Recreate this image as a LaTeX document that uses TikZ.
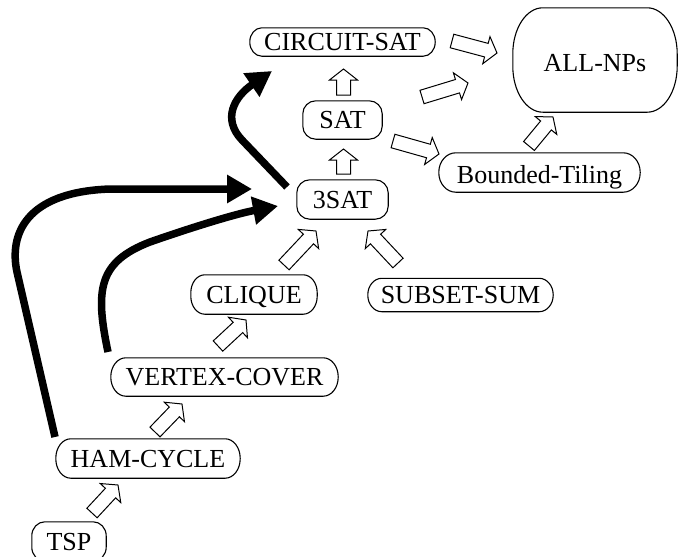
\documentclass[tikz,border=0pt]{standalone}
\usepackage{fontspec}
\setmainfont{Liberation Serif}
\usetikzlibrary{calc,arrows.meta}
\newcommand\ebox[3]{%
  \draw[boxline] let \p1=(#1.south west), \p2=(#1.north east) in
  ({\x1+#2pt},\y2) -- ({\x2-#2pt},\y2)
  .. controls ({\x2-0.448*#2pt},\y2) and (\x2,{\y2-0.448*#3pt}) .. (\x2,{\y2-#3pt})
  -- (\x2,{\y1+#3pt})
  .. controls (\x2,{\y1+0.448*#3pt}) and ({\x2-0.448*#2pt},\y1) .. ({\x2-#2pt},\y1)
  -- ({\x1+#2pt},\y1)
  .. controls ({\x1+0.448*#2pt},\y1) and (\x1,{\y1+0.448*#3pt}) .. (\x1,{\y1+#3pt})
  -- (\x1,{\y2-#3pt})
  .. controls (\x1,{\y2-0.448*#3pt}) and ({\x1+0.448*#2pt},\y2) .. cycle;}
\newcommand\barrow[2]{%
  \path ($(#2)!11pt!(#1)$) coordinate (hb);
  \draw[hollow] ($(#1)!7pt!90:(#2)$) -- ($(hb)!7pt!90:(#2)$) -- ($(hb)!14pt!90:(#2)$)
    -- (#2) -- ($(hb)!14pt!-90:(#2)$) -- ($(hb)!7pt!-90:(#2)$) -- ($(#1)!7pt!-90:(#2)$) -- cycle;}
\begin{document}
\begin{tikzpicture}[x=1pt,y=-1pt,
  nd/.style={inner sep=0pt, text height=17pt, text depth=0pt, font=\fontsize{26}{30}\selectfont},
  boxline/.style={line width=1.1pt},
  hollow/.style={draw, fill=white, line width=1pt, line join=miter},
  heavy/.style={line width=7.5pt, line join=round, -{Triangle[length=25pt,width=27pt]}}]
\useasboundingbox (0,0) rectangle (678,557);

\node[nd, minimum width=185pt, minimum height=28pt] (csat) at (342.5,42) {CIRCUIT-SAT};
\node[nd, minimum width=79pt, minimum height=38pt] (sat) at (342.5,120) {SAT};
\node[nd, minimum width=91pt, minimum height=39pt] (3sat) at (342.5,199.5) {3SAT};
\node[nd, minimum width=201pt, minimum height=39pt, text height=22pt] (bt) at (539.5,172.5) {Bounded-Tiling};
\node[nd, minimum width=164pt, minimum height=104pt, text height=23pt] (allnp) at (595,60) {ALL-NPs};
\node[nd, minimum width=126pt, minimum height=39pt] (clique) at (254,294.5) {CLIQUE};
\node[nd, minimum width=185pt, minimum height=33pt] (ssum) at (460.5,295) {SUBSET-SUM};
\node[nd, minimum width=227pt, minimum height=38pt] (vc) at (224.5,377) {VERTEX-COVER};
\node[nd, minimum width=184pt, minimum height=39pt] (ham) at (148,458.5) {HAM-CYCLE};
\node[nd, minimum width=74pt, minimum height=39pt] (tsp) at (69,541.5) {TSP};

\ebox{csat}{12}{14}
\ebox{sat}{13}{13}
\ebox{3sat}{13}{13}
\ebox{bt}{17}{19.5}
\ebox{allnp}{30}{46}
\ebox{clique}{14}{18}
\ebox{ssum}{14}{16.5}
\ebox{vc}{15}{19}
\ebox{ham}{15}{19.5}
\ebox{tsp}{13}{14}

% hollow reduction arrows
\coordinate (a1t) at (343.5,95);  \coordinate (a1h) at (343.5,69);
\coordinate (a2t) at (343.5,174); \coordinate (a2h) at (343.5,149);
\coordinate (a3t) at (452,41);    \coordinate (a3h) at (497,53);
\coordinate (a4t) at (422,97);    \coordinate (a4h) at (468,83);
\coordinate (a5t) at (393,141);   \coordinate (a5h) at (439,154);
\coordinate (a6t) at (529,146);   \coordinate (a6h) at (553,117);
\coordinate (a7t) at (284,265);   \coordinate (a7h) at (316,231);
\coordinate (a8t) at (398,263);   \coordinate (a8h) at (368,231);
\coordinate (a9t) at (218,346);   \coordinate (a9h) at (246,320);
\coordinate (a10t) at (155,432);  \coordinate (a10h) at (182,404);
\coordinate (a11t) at (92,513);   \coordinate (a11h) at (118,485);
\barrow{a1t}{a1h}
\barrow{a2t}{a2h}
\barrow{a3t}{a3h}
\barrow{a4t}{a4h}
\barrow{a5t}{a5h}
\barrow{a6t}{a6h}
\barrow{a7t}{a7h}
\barrow{a8t}{a8h}
\barrow{a9t}{a9h}
\barrow{a10t}{a10h}
\barrow{a11t}{a11h}

% heavy arrows
\coordinate (ta) at (287,187); \coordinate (tae) at (272,71);
\draw[heavy] (ta) -- (242,140) .. controls (222,119) and (234,97) .. (tae);
\coordinate (tb) at (55,437); \coordinate (tbe) at (252,189);
\draw[heavy] (tb) -- (17,272) .. controls (9,235) and (25,192) .. (110,189) -- (tbe);
\coordinate (tc) at (108,352); \coordinate (tce) at (278,206);
\draw[heavy] (tc) .. controls (95,290) and (98,262) .. (150,242) .. controls (190,228) and (235,214) .. (tce);
\end{tikzpicture}
\end{document}
